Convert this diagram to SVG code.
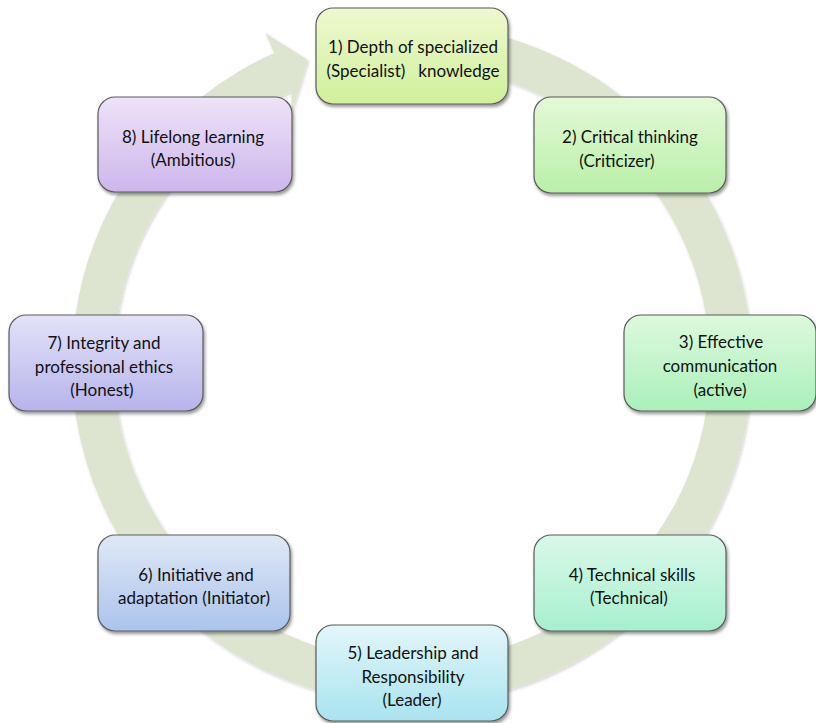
<svg xmlns="http://www.w3.org/2000/svg" width="816" height="723" viewBox="0 0 816 723">
<style>
.box{stroke:#5a5a5a;stroke-width:1.2;filter:url(#sh)}
.t{font-family:Lato,"Open Sans","Liberation Sans",sans-serif;font-size:17px;fill:#111;text-anchor:middle;white-space:pre}
.band{fill:#dde5d0}
</style>
<defs>
<filter id="sh" x="-10%" y="-10%" width="125%" height="130%">
<feDropShadow dx="1.5" dy="2.5" stdDeviation="1.8" flood-color="#000" flood-opacity="0.4"/>
</filter>
<filter id="bsh" x="-10%" y="-10%" width="120%" height="120%">
<feDropShadow dx="1" dy="1.5" stdDeviation="1.5" flood-color="#000" flood-opacity="0.18"/>
</filter>
<linearGradient id="g1" x1="0" y1="0" x2="0" y2="1"><stop offset="0" stop-color="#eef9cf"/><stop offset="1" stop-color="#d0f09c"/></linearGradient>
<linearGradient id="g2" x1="0" y1="0" x2="0" y2="1"><stop offset="0" stop-color="#e4f9d8"/><stop offset="1" stop-color="#b9efa8"/></linearGradient>
<linearGradient id="g3" x1="0" y1="0" x2="0" y2="1"><stop offset="0" stop-color="#ddf9de"/><stop offset="1" stop-color="#aaf0b9"/></linearGradient>
<linearGradient id="g4" x1="0" y1="0" x2="0" y2="1"><stop offset="0" stop-color="#daf8e8"/><stop offset="1" stop-color="#a6f0cf"/></linearGradient>
<linearGradient id="g5" x1="0" y1="0" x2="0" y2="1"><stop offset="0" stop-color="#e2f6fa"/><stop offset="1" stop-color="#a9e3ef"/></linearGradient>
<linearGradient id="g6" x1="0" y1="0" x2="0" y2="1"><stop offset="0" stop-color="#dfe8f6"/><stop offset="1" stop-color="#abc3ec"/></linearGradient>
<linearGradient id="g7" x1="0" y1="0" x2="0" y2="1"><stop offset="0" stop-color="#e3e2f8"/><stop offset="1" stop-color="#b7b4ec"/></linearGradient>
<linearGradient id="g8" x1="0" y1="0" x2="0" y2="1"><stop offset="0" stop-color="#eee3f8"/><stop offset="1" stop-color="#cdb6ec"/></linearGradient>
</defs>
<rect width="816" height="723" fill="#fff"/>
<g id="connectors">
<path class="band" filter="url(#bsh)" d="M441.6,25.3 A340,340 0 1 1 274.3,53.1 L265.3,33 L308,60 L292,112 L291.3,91.5 A298,298 0 1 0 438,67.1 Z"/>
</g>
<g id="node1">
<rect class="box" x="316" y="8" width="192" height="96" rx="17" fill="url(#g1)"/>
<text class="t" x="413" y="53">1) Depth of specialized</text>
<text class="t" x="413" y="77">(Specialist)   knowledge</text>
</g>
<g id="node2">
<rect class="box" x="534" y="97" width="192" height="96" rx="17" fill="url(#g2)"/>
<text class="t" x="630" y="143">2) Critical thinking</text>
<text class="t" x="617" y="167">(Criticizer)</text>
</g>
<g id="node3">
<rect class="box" x="624" y="315" width="192" height="96" rx="17" fill="url(#g3)"/>
<text class="t" x="721" y="348">3) Effective</text>
<text class="t" x="720" y="372">communication</text>
<text class="t" x="720" y="396">(active)</text>
</g>
<g id="node4">
<rect class="box" x="534" y="535" width="192" height="96" rx="17" fill="url(#g4)"/>
<text class="t" x="632" y="581">4) Technical skills</text>
<text class="t" x="629" y="604">(Technical)</text>
</g>
<g id="node5">
<rect class="box" x="316" y="625" width="192" height="96" rx="17" fill="url(#g5)"/>
<text class="t" x="413" y="659">5) Leadership and</text>
<text class="t" x="413" y="683">Responsibility</text>
<text class="t" x="412" y="706">(Leader)</text>
</g>
<g id="node6">
<rect class="box" x="98" y="535" width="192" height="96" rx="17" fill="url(#g6)"/>
<text class="t" x="196" y="581">6) Initiative and</text>
<text class="t" x="194" y="604">adaptation (Initiator)</text>
</g>
<g id="node7">
<rect class="box" x="9" y="315" width="194" height="96" rx="17" fill="url(#g7)"/>
<text class="t" x="104" y="349">7) Integrity and</text>
<text class="t" x="104" y="373">professional ethics</text>
<text class="t" x="102" y="396">(Honest)</text>
</g>
<g id="node8">
<rect class="box" x="98" y="97" width="194" height="95" rx="17" fill="url(#g8)"/>
<text class="t" x="193" y="143">8) Lifelong learning</text>
<text class="t" x="193" y="166">(Ambitious)</text>
</g>
</svg>
